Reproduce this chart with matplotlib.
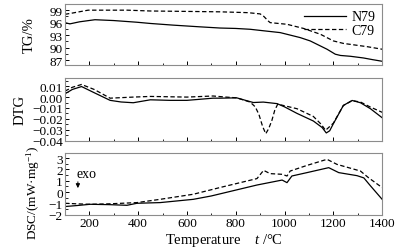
import numpy as np
import matplotlib
matplotlib.use('Agg')
import matplotlib.pyplot as plt
from matplotlib.ticker import MultipleLocator

plt.rcParams['font.family'] = ['Liberation Serif', 'DejaVu Serif']
plt.rcParams['mathtext.fontset'] = 'custom'
plt.rcParams['mathtext.rm'] = 'Liberation Serif'
plt.rcParams['mathtext.it'] = 'Liberation Serif:italic'
plt.rcParams['font.size'] = 9.5

# TG data (%)
tg_n79_t = [100, 120, 160, 223, 300, 394, 450, 543, 650, 736, 800, 859, 920, 982, 1064, 1105, 1174, 1208, 1229, 1270, 1323, 1360, 1400]
tg_n79 = [96.0, 95.7, 96.2, 96.7, 96.5, 96.1, 95.8, 95.4, 95.0, 94.7, 94.6, 94.4, 94.0, 93.6, 92.4, 91.6, 89.6, 88.4, 88.1, 87.9, 87.5, 87.1, 86.7]
tg_c79_t = [100, 130, 195, 280, 355, 450, 600, 736, 850, 900, 915, 933, 941, 1010, 1078, 1147, 1200, 1241, 1340, 1400]
tg_c79 = [98.0, 98.3, 99.0, 99.0, 99.0, 98.8, 98.7, 98.6, 98.4, 98.1, 97.5, 96.4, 96.0, 95.6, 94.6, 93.2, 91.6, 91.0, 90.2, 89.6]

# DTG data
dtg_n79_t = [100, 130, 168, 220, 285, 330, 380, 450, 530, 600, 654, 707, 736, 804, 840, 872, 913, 969, 1000, 1051, 1118, 1154, 1171, 1185, 1200, 1241, 1277, 1311, 1352, 1400]
dtg_n79 = [0.003, 0.007, 0.0097, 0.004, -0.003, -0.0045, -0.0052, -0.0025, -0.003, -0.003, -0.002, -0.001, -0.001, -0.0007, -0.003, -0.005, -0.0046, -0.006, -0.009, -0.015, -0.022, -0.028, -0.033, -0.031, -0.0245, -0.0077, -0.0031, -0.0052, -0.0107, -0.019]
dtg_c79_t = [100, 130, 168, 220, 285, 380, 450, 600, 707, 760, 804, 859, 880, 895, 910, 923, 935, 948, 960, 972, 1051, 1118, 1150, 1168, 1200, 1241, 1277, 1311, 1350, 1400]
dtg_c79 = [0.0055, 0.009, 0.0116, 0.007, -0.001, 0.0, 0.0006, 0.0, 0.001, 0.0, -0.0007, -0.0046, -0.009, -0.016, -0.027, -0.0337, -0.029, -0.0215, -0.012, -0.0065, -0.0107, -0.0178, -0.025, -0.0306, -0.024, -0.0077, -0.0033, -0.0045, -0.009, -0.014]

# DSC data (mW/mg)
dsc_n79_t = [100, 150, 203, 280, 354, 395, 490, 626, 700, 777, 887, 990, 1010, 1030, 1092, 1181, 1222, 1297, 1325, 1350, 1400]
dsc_n79 = [-1.29, -1.2, -1.09, -1.12, -1.18, -1.0, -0.94, -0.65, -0.35, 0.05, 0.62, 1.06, 0.83, 1.42, 1.72, 2.16, 1.72, 1.45, 1.25, 0.6, -0.65]
dsc_c79_t = [100, 150, 203, 280, 395, 490, 626, 736, 887, 914, 941, 990, 1010, 1023, 1092, 1174, 1215, 1311, 1344, 1400]
dsc_c79 = [-1.0, -1.05, -1.09, -1.05, -0.94, -0.65, -0.2, 0.4, 1.19, 1.92, 1.63, 1.57, 1.42, 1.86, 2.36, 2.9, 2.45, 1.86, 1.27, 0.39]

fig = plt.figure(figsize=(4.01, 2.51), dpi=100)
left, width = 0.162, 0.791
ax1 = fig.add_axes([left, 0.737, width, 0.245])
ax2 = fig.add_axes([left, 0.436, width, 0.249])
ax3 = fig.add_axes([left, 0.139, width, 0.247])

dash = (0, (3.5, 2))
ax1.plot(tg_n79_t, tg_n79, color='k', lw=0.9, label='N79')
ax1.plot(tg_c79_t, tg_c79, color='k', lw=0.9, ls=dash, label='C79')
ax2.plot(dtg_n79_t, dtg_n79, color='k', lw=0.9)
ax2.plot(dtg_c79_t, dtg_c79, color='k', lw=0.9, ls=dash)
ax3.plot(dsc_n79_t, dsc_n79, color='k', lw=0.9)
ax3.plot(dsc_c79_t, dsc_c79, color='k', lw=0.9, ls=dash)

ax1.set_ylim(85.8, 100.6)
ax1.yaxis.set_major_locator(MultipleLocator(3))
ax1.yaxis.set_minor_locator(MultipleLocator(1.5))
ax2.set_ylim(-0.04, 0.0175)
ax2.yaxis.set_major_locator(MultipleLocator(0.01))
ax2.yaxis.set_minor_locator(MultipleLocator(0.005))
ax2.yaxis.set_major_formatter(plt.FuncFormatter(lambda v, p: f'{v:.2f}'.replace('-', '\u2212')))
ax3.set_ylim(-2.05, 3.45)
ax3.yaxis.set_major_locator(MultipleLocator(1))
ax3.yaxis.set_minor_locator(MultipleLocator(0.5))

for ax in (ax1, ax2, ax3):
    ax.set_xlim(100, 1400)
    ax.xaxis.set_major_locator(MultipleLocator(200))
    ax.xaxis.set_minor_locator(MultipleLocator(100))
    ax.tick_params(which='both', direction='in', top=False, right=False)
    ax.tick_params(which='major', length=3, width=0.7, pad=1.5, labelsize=9.5)
    ax.tick_params(which='minor', length=1.8, width=0.6)
    for s in ax.spines.values():
        s.set_color('0.55')
        s.set_linewidth(0.8)
ax1.set_xticklabels([])
ax2.set_xticklabels([])

ax1.set_ylabel('TG/%', fontsize=10.5)
ax2.set_ylabel('DTG', fontsize=10.5)
ax3.set_ylabel('DSC/(mW\u00b7mg$^{-1}$)', fontsize=9.5)
ax1.yaxis.set_label_coords(-0.093, 0.5)
ax2.yaxis.set_label_coords(-0.12, 0.5)
ax3.yaxis.set_label_coords(-0.072, 0.37)
ax3.set_xlabel('Temperature    $t$ /\u00b0C', fontsize=10.5, labelpad=1)

ax1.legend(loc='upper right', frameon=False, handlelength=3.0, handletextpad=0.4,
           labelspacing=0.05, borderaxespad=0.1, fontsize=10)

ax3.annotate('', xy=(153, 0.1), xytext=(153, 1.15),
             arrowprops=dict(arrowstyle='-|>', color='k', lw=0.7, mutation_scale=6))
ax3.text(148, 1.6, 'exo', fontsize=10, ha='left', va='center')

fig.savefig('out.png', dpi=100)
